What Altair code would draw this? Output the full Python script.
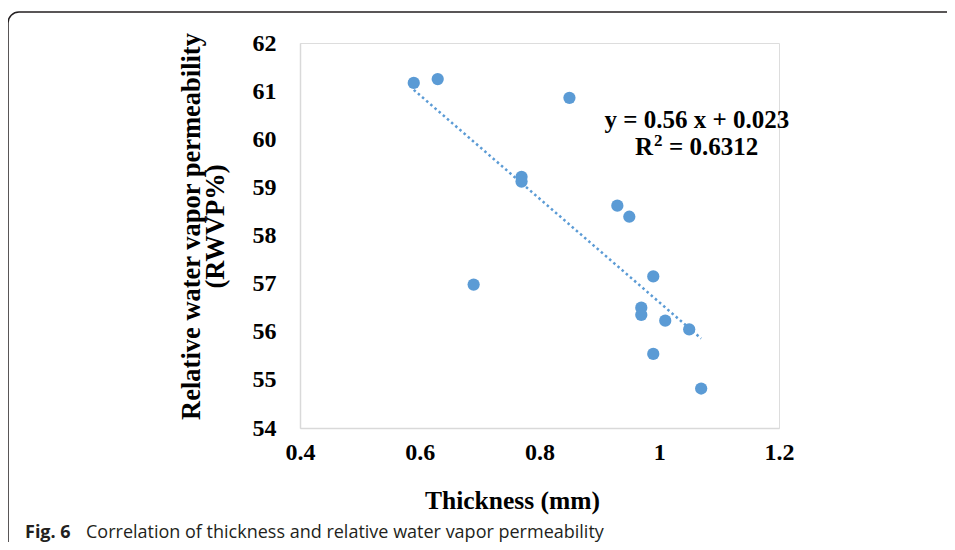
import altair as alt
import pandas as pd

thickness = [0.59, 0.63, 0.85, 0.77, 0.77, 0.93, 0.95, 0.69, 0.99, 0.97, 0.97, 1.01, 1.05, 0.99, 1.07]
rwvp = [61.17, 61.25, 60.86, 59.22, 59.12, 58.62, 58.39, 56.98, 57.15, 56.50, 56.35, 56.23, 56.05, 55.54, 54.82]

x_ticks = [0.4, 0.6, 0.8, 1.0, 1.2]
y_ticks = [54, 55, 56, 57, 58, 59, 60, 61, 62]

# equation annotation: anchor in data units, pieces offset in pixels
eq_anchor_x = 1.063
eq_line1 = "y = 0.56 x + 0.023"
eq_line1_y = 60.234
eq_line2_y = 59.673
eq_line2_parts = ["R", "2", "= 0.6312"]

caption_bold = "Fig. 6"
caption_text = "Correlation of thickness and relative water vapor permeability"

df = pd.DataFrame({"Thickness": thickness, "RWVP": rwvp})
one = pd.DataFrame({"a": [0]})

BLUE = "#5B9BD5"
SERIF = "Liberation Serif"

xscale = alt.Scale(domain=[0.4, 1.2], nice=False, zero=False)
yscale = alt.Scale(domain=[54, 62], nice=False, zero=False)

xaxis = alt.Axis(
    values=x_ticks, format="~g", grid=False, ticks=False,
    domainColor="#D9D9D9", domainWidth=1.5,
    labelFont=SERIF, labelFontWeight="bold", labelFontSize=24, labelColor="black",
    labelPadding=12, labelFlush=False,
    title="Thickness (mm)", titleFont=SERIF, titleFontWeight="bold", titleFontSize=25.5,
    titleColor="black", titleX=212, titleY=80, titleBaseline="alphabetic", titleAnchor="start",
    titleAlign="center",
)
yaxis = alt.Axis(
    values=y_ticks, grid=False, ticks=False,
    domainColor="#D9D9D9", domainWidth=1.5,
    labelFont=SERIF, labelFontWeight="bold", labelFontSize=24, labelColor="black",
    labelPadding=24, labelFlush=False,
    title=["Relative water vapor permeability", "(RWVP%)"],
    titleFont=SERIF, titleFontWeight="bold", titleFontSize=26.5, titleColor="black",
    titleLineHeight=24.5, titleAngle=270, titleX=-109, titleY=183,
    titleAlign="center", titleBaseline="middle",
)

frame = alt.Chart(one).mark_rect(
    fill="white", fillOpacity=0, stroke="#231F20", strokeWidth=1.5, cornerRadius=11
).encode(
    x=alt.value(-292), x2=alt.value(900), y=alt.value(-31), y2=alt.value(700)
)

points = alt.Chart(df).mark_circle(size=150, color=BLUE, opacity=1).encode(
    x=alt.X("Thickness:Q", scale=xscale, axis=xaxis),
    y=alt.Y("RWVP:Q", scale=yscale, axis=yaxis),
)

trend = alt.Chart(df).transform_regression(
    "Thickness", "RWVP"
).mark_line(color=BLUE, strokeWidth=2.5, strokeDash=[2.5, 3]).encode(
    x=alt.X("Thickness:Q", scale=xscale),
    y=alt.Y("RWVP:Q", scale=yscale),
)

ann = pd.DataFrame({"x": [eq_anchor_x], "y1": [eq_line1_y], "y2": [eq_line2_y]})
txt = dict(font=SERIF, fontWeight="bold", color="black", baseline="alphabetic")

eq1 = alt.Chart(ann).mark_text(text=eq_line1, fontSize=25, align="center", **txt).encode(
    x=alt.X("x:Q", scale=xscale), y=alt.Y("y1:Q", scale=yscale))
eq2a = alt.Chart(ann).mark_text(text=eq_line2_parts[0], fontSize=25, align="left", dx=-62, **txt).encode(
    x=alt.X("x:Q", scale=xscale), y=alt.Y("y2:Q", scale=yscale))
eq2b = alt.Chart(ann).mark_text(text=eq_line2_parts[1], fontSize=17, align="left", dx=-43, dy=-9, **txt).encode(
    x=alt.X("x:Q", scale=xscale), y=alt.Y("y2:Q", scale=yscale))
eq2c = alt.Chart(ann).mark_text(text=eq_line2_parts[2], fontSize=25, align="left", dx=-28, **txt).encode(
    x=alt.X("x:Q", scale=xscale), y=alt.Y("y2:Q", scale=yscale))

cap1 = alt.Chart(one).mark_text(
    text=caption_bold, font="Open Sans", fontWeight="bold", fontSize=18, color="#231F20",
    align="left", baseline="alphabetic"
).encode(x=alt.value(-275), y=alt.value(494.5))

cap2 = alt.Chart(one).mark_text(
    text=caption_text, font="Open Sans", fontSize=18, color="#231F20",
    align="left", baseline="alphabetic"
).encode(x=alt.value(-214), y=alt.value(494.5))

chart = alt.layer(frame, trend, points, eq1, eq2a, eq2b, eq2c, cap1, cap2).properties(
    width=479, height=385,
    autosize=alt.AutoSizeParams(type="none"),
    padding={"left": 292, "top": 35, "right": 168, "bottom": 114},
).configure_view(strokeWidth=0, stroke="transparent").configure(background="white")

chart.save("out.html", embed_options={"renderer": "svg", "actions": False})
